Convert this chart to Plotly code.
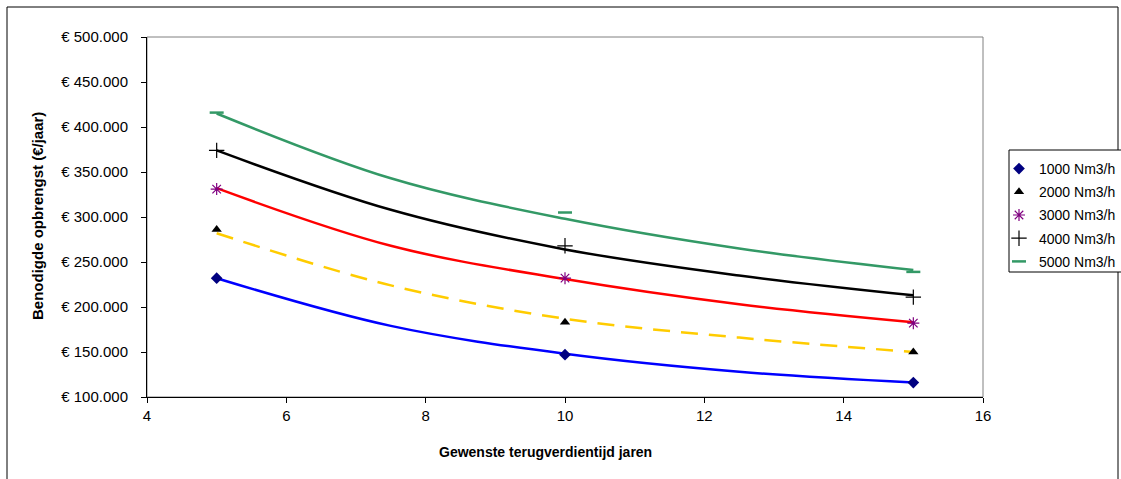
import plotly.graph_objects as go

# --- data ---
years = [5, 10, 15]
p1000 = [232000, 147000, 116000]
p2000 = [286000, 183000, 150000]
p3000 = [331000, 232000, 182000]
p4000 = [374000, 268000, 211000]
p5000 = [416000, 305000, 239000]

trend_x = [5, 7.5, 10, 12.5, 15]
t1000 = [232000, 179000, 148000, 128000, 116000]
t2000 = [282000, 224000, 187000, 166000, 150000]
t3000 = [332000, 268000, 231000, 203000, 183000]
t4000 = [374000, 308000, 264000, 235000, 213000]
t5000 = [415000, 343000, 298000, 265000, 241000]

series_names = ["1000 Nm3/h", "2000 Nm3/h", "3000 Nm3/h", "4000 Nm3/h", "5000 Nm3/h"]

y_tickvals = [100000, 150000, 200000, 250000, 300000, 350000, 400000, 450000, 500000]
y_ticktext = ["€ 100.000", "€ 150.000", "€ 200.000", "€ 250.000", "€ 300.000",
              "€ 350.000", "€ 400.000", "€ 450.000", "€ 500.000"]
x_tickvals = [4, 6, 8, 10, 12, 14, 16]

FONT = "Liberation Sans, Arial, sans-serif"

fig = go.Figure()

# trend lines
trend_styles = [
    (t1000, "#0000FF", "solid"),
    (t2000, "#FFCC00", "17px,11px"),
    (t3000, "#FF0000", "solid"),
    (t4000, "#000000", "solid"),
    (t5000, "#339966", "solid"),
]
for vals, col, dash in trend_styles:
    fig.add_trace(go.Scatter(
        x=trend_x, y=vals, mode="lines", showlegend=False, hoverinfo="skip",
        line=dict(color=col, width=2.5, dash=dash, shape="spline", smoothing=1.0)))

# data markers
marker_styles = [
    (p1000, dict(symbol="diamond", color="#000080", size=9)),
    (p2000, dict(symbol="triangle-up", color="#000000", size=9)),
    (p3000, dict(symbol="asterisk-open", color="#800080", size=10, line=dict(color="#800080", width=1.2))),
    (p4000, dict(symbol="cross-thin-open", color="#000000", size=11, line=dict(color="#000000", width=1.2))),
    (p5000, dict(symbol="line-ew-open", color="#339966", size=10, line=dict(color="#339966", width=2.5))),
]
for name, (vals, mk) in zip(series_names, marker_styles):
    fig.add_trace(go.Scatter(x=years, y=vals, mode="markers", name=name,
                             legendgroup=name, marker=mk))

L, R, T, B = 147, 983, 37, 397
W, H = 1121, 479

def px2x(px):
    return (px - L) / (R - L)

def px2y(py):
    return (B - py) / (B - T)

shapes = [
    # plot area border (grey)
    dict(type="rect", xref="paper", yref="paper", x0=0, x1=1, y0=0, y1=1,
         line=dict(color="#808080", width=1), layer="below"),
    # chart area border
    dict(type="rect", xref="paper", yref="paper",
         x0=px2x(7), x1=px2x(1118), y0=px2y(490), y1=px2y(7),
         line=dict(color="#000000", width=1), layer="below"),
    # legend box
    dict(type="rect", xref="paper", yref="paper",
         x0=px2x(1009), x1=px2x(1140), y0=px2y(272), y1=px2y(150),
         line=dict(color="#000000", width=1), fillcolor="#FFFFFF", layer="below"),
]

annotations = [
    dict(text="<b>Gewenste terugverdientijd jaren</b>", xref="paper", yref="paper",
         x=px2x(545), y=px2y(452), showarrow=False, xanchor="center", yanchor="middle",
         font=dict(family=FONT, size=14, color="#000000")),
    dict(text="<b>Benodigde opbrengst (€/jaar)</b>", xref="paper", yref="paper",
         x=px2x(37), y=px2y(216), showarrow=False, xanchor="center", yanchor="middle",
         textangle=-90, font=dict(family=FONT, size=15, color="#000000")),
]

fig.update_layout(
    width=W, height=H,
    margin=dict(l=L, r=W - R, t=T, b=H - B, autoexpand=False),
    paper_bgcolor="#FFFFFF", plot_bgcolor="#FFFFFF",
    font=dict(family=FONT, size=15, color="#000000"),
    shapes=shapes, annotations=annotations,
    legend=dict(x=px2x(999), y=px2y(153), xanchor="left", yanchor="top",
                borderwidth=0, bgcolor="rgba(0,0,0,0)",
                font=dict(family=FONT, size=14), tracegroupgap=2, itemwidth=30),
    xaxis=dict(range=[4, 16], tickvals=x_tickvals, showgrid=False, zeroline=False,
               showline=True, linecolor="#000000", linewidth=1,
               ticks="outside", ticklen=5, tickcolor="#000000",
               tickfont=dict(family=FONT, size=15)),
    yaxis=dict(range=[100000, 500000], tickvals=y_tickvals, ticktext=y_ticktext,
               showgrid=False, zeroline=False, showline=True, linecolor="#000000",
               linewidth=1, ticks="outside", ticklen=5, tickcolor="#000000",
               ticklabelstandoff=10,
               tickfont=dict(family=FONT, size=15)),
)

fig.write_html("out.html")
